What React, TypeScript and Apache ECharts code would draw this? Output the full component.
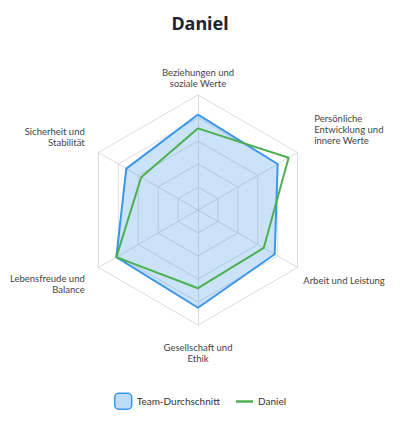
import * as echarts from 'echarts';
import React, { useEffect, useRef } from 'react';

const indicators = [
  'Beziehungen und\nsoziale Werte',
  'Persönliche\nEntwicklung und\ninnere Werte',
  'Arbeit und Leistung',
  'Gesellschaft und\nEthik',
  'Lebensfreude und\nBalance',
  'Sicherheit und\nStabilität',
];
// Reihenfolge im Uhrzeigersinn ab oben
const teamValues = [4.15, 4.0, 3.85, 4.25, 4.1, 3.6];
const danielValues = [3.55, 4.55, 3.3, 3.4, 4.1, 2.85];
const maxValue = 5;

// ECharts legt Indikatoren gegen den Uhrzeigersinn an -> umdrehen
const order = [0, 5, 4, 3, 2, 1];

// Feinjustierung der Achsenbeschriftungen: Leerzeile oben/unten, seitlicher Abstand
const labelTweak = [
  { top: 0, bottom: 0, padL: 0, padR: 0 },
  { top: 0, bottom: 40, padL: 11, padR: 0 },
  { top: 20, bottom: 0, padL: 0, padR: 0 },
  { top: 10, bottom: 0, padL: 0, padR: 0 },
  { top: 27, bottom: 0, padL: 0, padR: 8 },
  { top: 0, bottom: 25, padL: 0, padR: 8 },
];

const FONT = 'Lato';

const rich: Record<string, any> = {};
labelTweak.forEach((t, i) => {
  rich['t' + i] = {
    fontFamily: FONT,
    fontSize: 9.5,
    lineHeight: 11,
    color: '#444',
    padding: [0, t.padR, 0, t.padL],
  };
  rich['a' + i] = { fontSize: 1, lineHeight: t.top };
  rich['b' + i] = { fontSize: 1, lineHeight: t.bottom };
});

const App: React.FC = () => {
  const chartRef = useRef<HTMLDivElement>(null);

  useEffect(() => {
    document.body.style.margin = '0';
    if (!chartRef.current) return;
    const instance = echarts.init(chartRef.current, undefined, { renderer: 'svg' });
    instance.setOption({
      animation: false,
      title: {
        text: 'Daniel',
        left: 'center',
        top: 9,
        textStyle: {
          fontFamily: 'Noto Sans',
          fontWeight: 'bold',
          fontSize: 18,
          color: '#1f2430',
        },
      },
      legend: {
        bottom: 12,
        left: 'center',
        itemWidth: 17,
        itemHeight: 16,
        itemGap: 16,
        textStyle: { fontFamily: FONT, fontSize: 10, color: '#333' },
        data: [
          {
            name: 'Team-Durchschnitt',
            icon: 'roundRect',
            itemStyle: { color: '#bddcf8', borderColor: '#3b97ea', borderWidth: 1.5 },
          },
          {
            name: 'Daniel',
            icon: 'path://M0,0 M0,7 L17,7 L17,9.5 L0,9.5 Z M17,16',
            itemStyle: { color: '#4caf50', borderWidth: 0 },
          },
        ],
      },
      radar: {
        center: [198, 210],
        radius: 115,
        splitNumber: 5,
        startAngle: 90,
        indicator: order.map((i) => ({ name: indicators[i], max: maxValue, min: 0 })),
        nameGap: 6.5,
        axisName: {
          color: '#444',
          fontFamily: FONT,
          fontSize: 9.5,
          formatter: (name: string) => {
            const i = indicators.indexOf(name);
            const t = labelTweak[i];
            const lines = name.split('\n').map((l) => `{t${i}|${l}}`);
            if (t.top) lines.unshift(`{a${i}| }`);
            if (t.bottom) lines.push(`{b${i}| }`);
            return lines.join('\n');
          },
          rich,
        },
        splitLine: { lineStyle: { color: '#dcdcdc', width: 1 } },
        splitArea: { show: false },
        axisLine: { lineStyle: { color: '#dcdcdc', width: 1 } },
      },
      series: [
        {
          name: 'Team-Durchschnitt',
          type: 'radar',
          symbol: 'none',
          z: 1,
          lineStyle: { color: '#3b97ea', width: 2 },
          itemStyle: { color: '#3b97ea' },
          areaStyle: { color: 'rgba(59,151,234,0.38)' },
          data: [{ name: 'Team-Durchschnitt', value: order.map((i) => teamValues[i]) }],
        },
        {
          name: 'Daniel',
          type: 'radar',
          symbol: 'none',
          z: 2,
          lineStyle: { color: '#4caf50', width: 2 },
          itemStyle: { color: '#4caf50' },
          data: [{ name: 'Daniel', value: order.map((i) => danielValues[i]) }],
        },
      ],
    });
    return () => {
      instance.dispose();
    };
  }, []);

  return <div ref={chartRef} style={{ width: 400, height: 427 }} />;
};

export default App;
